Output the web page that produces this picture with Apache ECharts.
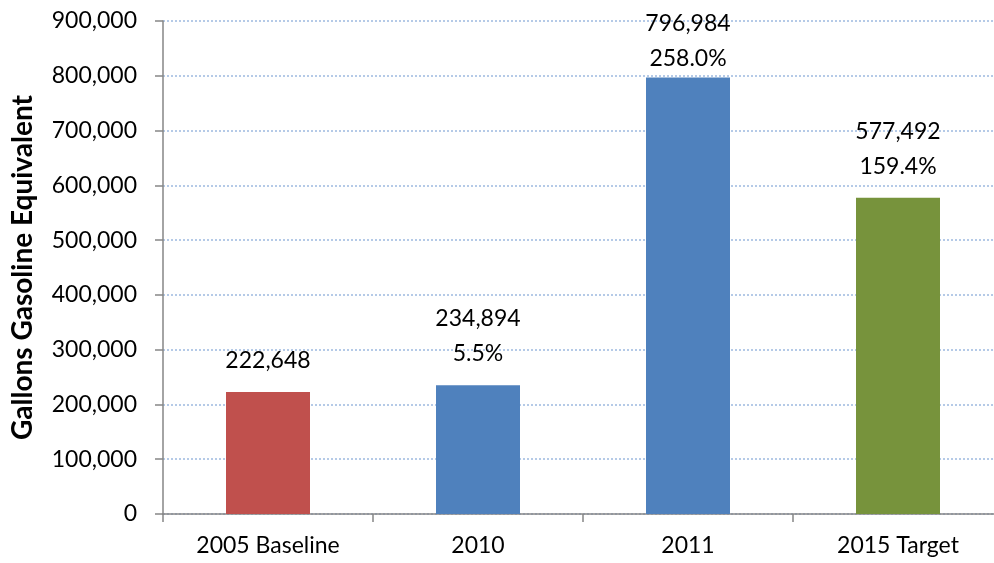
<!DOCTYPE html>
<html>
<head>
<meta charset="utf-8">
<title>Gallons Gasoline Equivalent</title>
<script src="https://cdn.jsdelivr.net/npm/echarts@6/dist/echarts.min.js"></script>
<style>
html, body { margin: 0; padding: 0; background: #fff; }
#chart { width: 994px; height: 563px; }
</style>
</head>
<body>
<div id="chart"></div>
<script>
// data
var categories = ['2005 Baseline', '2010', '2011', '2015 Target'];
var values = [222648, 234894, 796984, 577492];
var pctChange = ['', '5.5%', '258.0%', '159.4%'];
var barColors = ['#C0504D', '#4F81BD', '#4F81BD', '#77933C'];
var yTicks = [0, 100000, 200000, 300000, 400000, 500000, 600000, 700000, 800000, 900000];

var fontFam = 'Lato, "Open Sans", sans-serif';

var chart = echarts.init(document.getElementById('chart'));

var barData = values.map(function (v, i) {
    return {
        value: v,
        itemStyle: { color: barColors[i] },
        // the tallest label is pushed down to fit under the top
        label: { distance: i == 2 ? 1 : 14 }
    };
});

chart.setOption({
    animation: false,
    grid: { left: 163, right: -9, top: 21, bottom: 49, outerBoundsMode: 'none' },
    xAxis: {
        type: 'category',
        data: categories,
        axisLine: { lineStyle: { color: '#868686', width: 1.5 } },
        axisTick: { show: true, length: 8, lineStyle: { color: '#868686', width: 1.5 } },
        axisLabel: { color: '#000', fontSize: 23, fontFamily: fontFam, margin: 20 }
    },
    yAxis: {
        type: 'value',
        min: yTicks[0],
        max: yTicks[yTicks.length - 1],
        interval: 100000,
        name: 'Gallons Gasoline Equivalent',
        nameLocation: 'middle',
        nameGap: 126,
        nameTextStyle: { color: '#000', fontSize: 28, fontWeight: 'bold', fontFamily: fontFam },
        axisLine: { show: true, lineStyle: { color: '#868686', width: 1.5 } },
        axisTick: { show: true, length: 8, lineStyle: { color: '#868686', width: 1.5 } },
        axisLabel: {
            color: '#000', fontSize: 23, fontFamily: fontFam, margin: 26,
            formatter: function (v) { return v.toLocaleString('en-US'); }
        },
        splitLine: { lineStyle: { color: '#9DB9E0', type: [2, 2], width: 1.5 } }
    },
    series: [{
        type: 'bar',
        data: barData,
        barWidth: '40%',
        label: {
            show: true,
            position: 'top',
            color: '#000',
            fontSize: 23,
            fontFamily: fontFam,
            lineHeight: 35,
            align: 'center',
            formatter: function (p) {
                var s = values[p.dataIndex].toLocaleString('en-US');
                if (pctChange[p.dataIndex]) s += '\n' + pctChange[p.dataIndex];
                return s;
            }
        }
    }]
});
</script>
</body>
</html>
